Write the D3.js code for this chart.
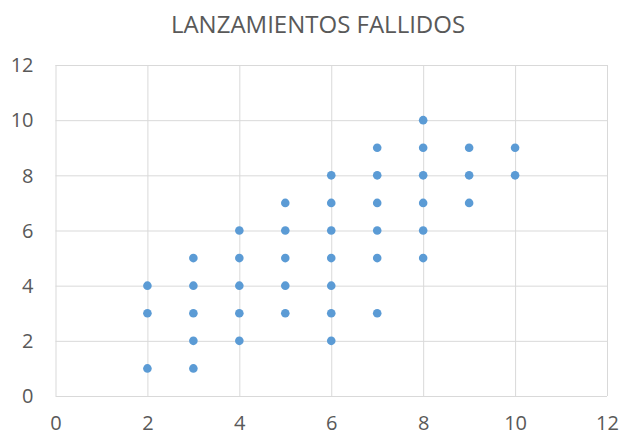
<!DOCTYPE html>
<html>
<head>
<meta charset="utf-8">
<script src="https://cdn.jsdelivr.net/npm/d3@7"></script>
<style>
  body { margin: 0; background: #fff; }
  svg { display: block; font-family: "Open Sans", sans-serif; }
</style>
</head>
<body>
<svg id="chart"></svg>
<script>
const chartTitle = "LANZAMIENTOS FALLIDOS";
// each point: x (shots) paired with y (failed)
const xValues = [2, 2, 2,
  3, 3, 3, 3, 3,
  4, 4, 4, 4, 4,
  5, 5, 5, 5, 5,
  6, 6, 6, 6, 6, 6, 6,
  7, 7, 7, 7, 7, 7,
  8, 8, 8, 8, 8, 8,
  9, 9, 9,
  10, 10];
const yValues = [1, 3, 4,
  1, 2, 3, 4, 5,
  2, 3, 4, 5, 6,
  3, 4, 5, 6, 7,
  2, 3, 4, 5, 6, 7, 8,
  3, 5, 6, 7, 8, 9,
  5, 6, 7, 8, 9, 10,
  7, 8, 9,
  8, 9];
const xTicks = [0, 2, 4, 6, 8, 10, 12];
const yTicks = [0, 2, 4, 6, 8, 10, 12];

const width = 623, height = 435;
const margin = { top: 65, right: 16, bottom: 39, left: 55.5 };

const svg = d3.select("#chart").attr("width", width).attr("height", height);

const x = d3.scaleLinear().domain([0, 12]).range([margin.left, width - margin.right]);
const y = d3.scaleLinear().domain([0, 12]).range([height - margin.bottom, margin.top]);

// gridlines
svg.append("g")
  .attr("transform", "translate(0," + (height - margin.bottom) + ")")
  .call(d3.axisBottom(x).tickValues(xTicks).tickSize(-(y(0) - y(12))).tickFormat(""))
  .call(g => g.select(".domain").remove())
  .call(g => g.selectAll("line").attr("stroke", "#d9d9d9").attr("stroke-width", 1));

svg.append("g")
  .attr("transform", "translate(" + margin.left + ",0)")
  .call(d3.axisLeft(y).tickValues(yTicks).tickSize(-(x(12) - x(0))).tickFormat(""))
  .call(g => g.select(".domain").remove())
  .call(g => g.selectAll("line").attr("stroke", "#d9d9d9").attr("stroke-width", 1));

// tick labels
svg.append("g")
  .attr("transform", "translate(0," + (height - margin.bottom) + ")")
  .call(d3.axisBottom(x).tickValues(xTicks).tickSize(0).tickPadding(0))
  .call(g => g.select(".domain").remove())
  .call(g => g.selectAll("text")
    .attr("dy", null).attr("y", 34)
    .attr("fill", "#595959").style("font-size", "20px")
    .style("font-family", "'Open Sans', sans-serif"));

svg.append("g")
  .attr("transform", "translate(" + margin.left + ",0)")
  .call(d3.axisLeft(y).tickValues(yTicks).tickSize(0).tickPadding(22))
  .call(g => g.select(".domain").remove())
  .call(g => g.selectAll("text")
    .attr("dy", "0.34em")
    .attr("fill", "#595959").style("font-size", "20px")
    .style("font-family", "'Open Sans', sans-serif"));

// title
svg.append("text")
  .attr("x", 318).attr("y", 33)
  .attr("text-anchor", "middle")
  .attr("fill", "#595959")
  .style("font-size", "24px")
  .text(chartTitle);

// points
const points = xValues.map((d, i) => ({ x: d, y: yValues[i] }));
svg.append("g")
  .selectAll("circle")
  .data(points)
  .join("circle")
  .attr("cx", d => x(d.x))
  .attr("cy", d => y(d.y))
  .attr("r", 4.3)
  .attr("fill", "#5b9bd5");
</script>
</body>
</html>
